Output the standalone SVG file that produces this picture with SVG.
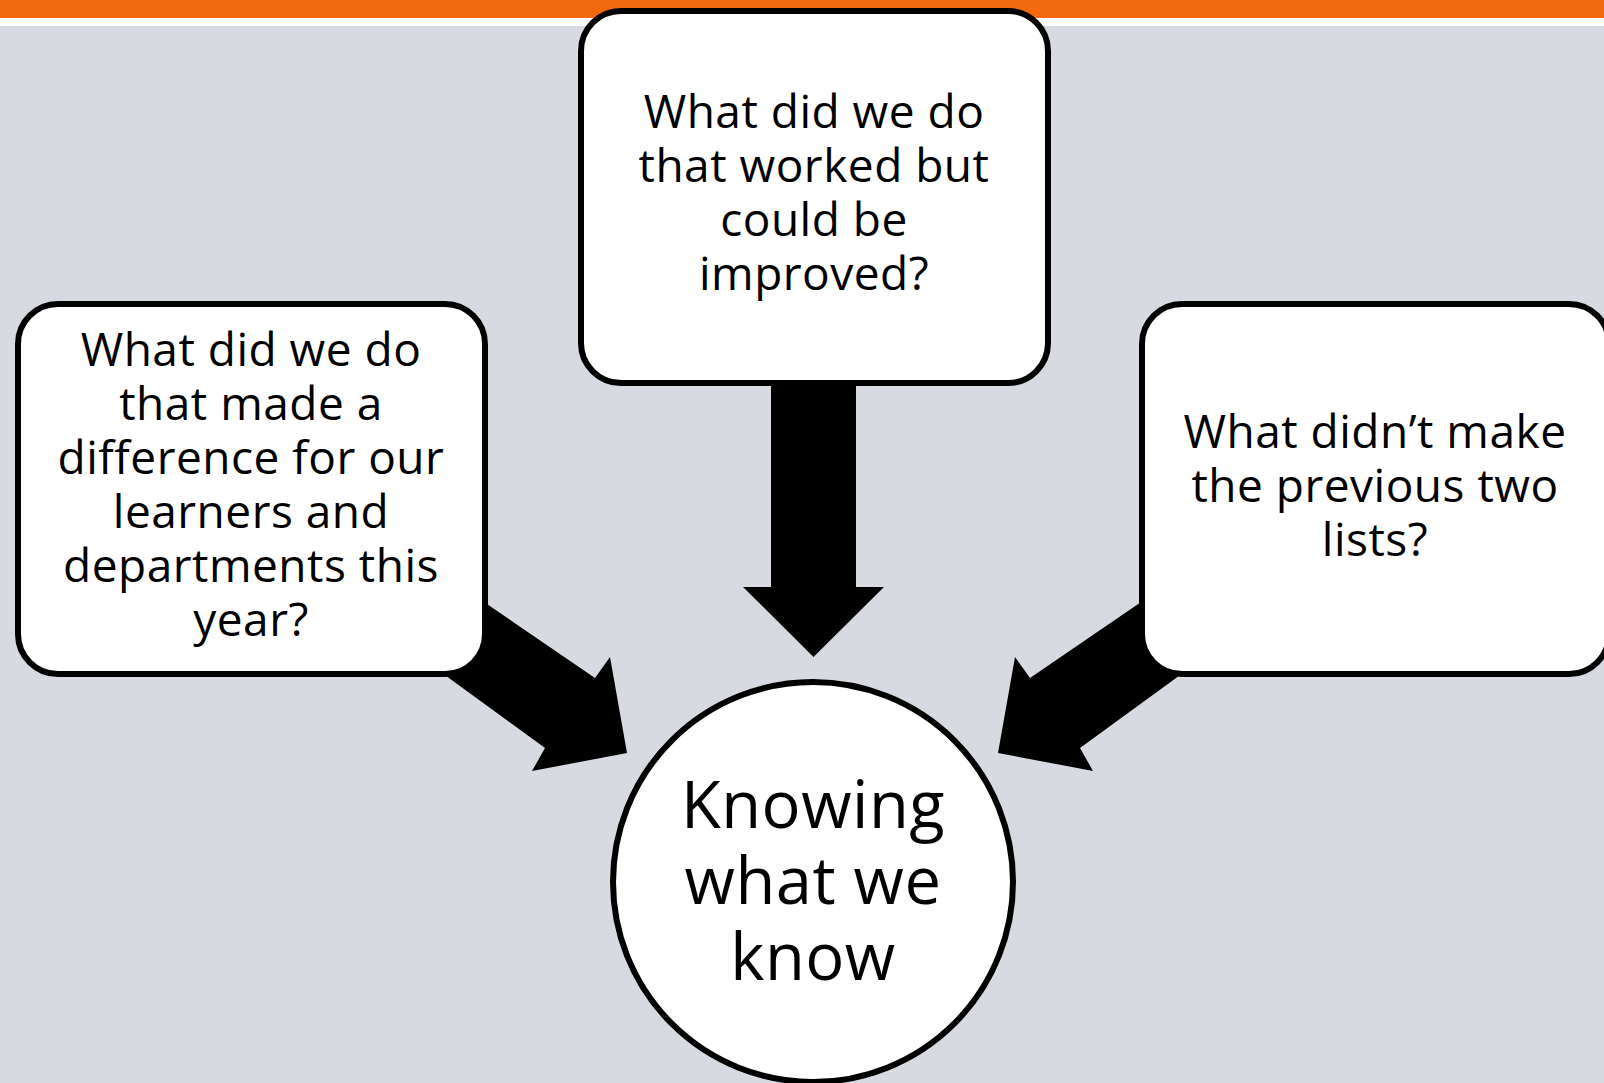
<svg xmlns="http://www.w3.org/2000/svg" width="1604" height="1083" viewBox="0 0 1604 1083">
<style>
.box{fill:#ffffff;stroke:#000000;stroke-width:6}
.arrow{fill:#000000}
.t{font-family:"Open Sans","Liberation Sans",sans-serif;font-size:46px;letter-spacing:0.5px;fill:#000000;text-anchor:middle}
.tc{font-family:"Open Sans","Liberation Sans",sans-serif;font-size:65px;letter-spacing:0.5px;fill:#000000;text-anchor:middle}
</style>
<rect x="0" y="0" width="1604" height="1083" fill="#d7dae1"/>
<rect x="0" y="0" width="1604" height="26" fill="#ffffff"/>
<rect x="0" y="0" width="1604" height="18" fill="#f3690f"/>
<g id="connectors">
<polygon class="arrow" points="771,370 856,370 856,587 884,587 813.5,657 743,587 771,587"/>
<polygon class="arrow" points="440,572 595,678 610,657 627,753 532,771 545,748 405,646"/>
<polygon class="arrow" points="1185,572 1030,678 1015,657 998,753 1093,771 1080,748 1220,646"/>
</g>
<g id="node-top">
<rect class="box" x="581" y="11" width="467" height="372" rx="40"/>
<text class="t" x="814"><tspan x="814" y="128">What did we do</tspan><tspan x="814" y="182">that worked but</tspan><tspan x="814" y="236">could be</tspan><tspan x="814" y="290">improved?</tspan></text>
</g>
<g id="node-left">
<rect class="box" x="18" y="304" width="467" height="370" rx="40"/>
<text class="t" x="251"><tspan x="251" y="366">What did we do</tspan><tspan x="251" y="420">that made a</tspan><tspan x="251" y="474">difference for our</tspan><tspan x="251" y="528">learners and</tspan><tspan x="251" y="582">departments this</tspan><tspan x="251" y="636">year?</tspan></text>
</g>
<g id="node-right">
<rect class="box" x="1142" y="304" width="467" height="370" rx="40"/>
<text class="t" x="1375"><tspan x="1375" y="448">What didn’t make</tspan><tspan x="1375" y="502">the previous two</tspan><tspan x="1375" y="556">lists?</tspan></text>
</g>
<g id="node-center">
<circle class="box" cx="813" cy="882" r="200"/>
<text class="tc" x="813"><tspan x="813" y="828">Knowing</tspan><tspan x="813" y="904">what we</tspan><tspan x="813" y="980">know</tspan></text>
</g>
</svg>
